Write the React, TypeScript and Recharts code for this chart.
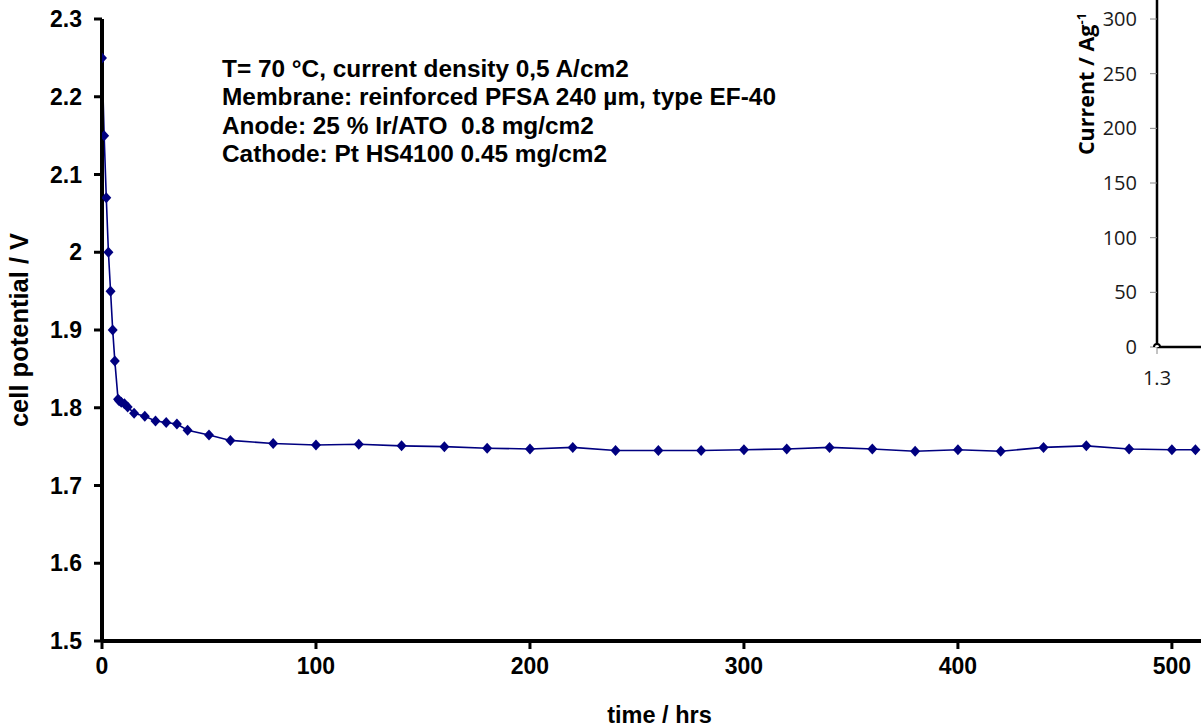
import React from "react";
import { LineChart, Line, XAxis, YAxis, Label } from "recharts";

// durability test: cell potential vs time
const hours = [
  0, 1, 2, 3, 4, 5, 6, 7.5, 8, 9, 10.5, 12, 15, 20, 25, 30, 35, 40, 50, 60,
  80, 100, 120, 140, 160, 180, 200, 220, 240, 260, 280, 300, 320, 340, 360,
  380, 400, 420, 440, 460, 480, 500, 511,
];
const potential = [
  2.25, 2.15, 2.07, 2.0, 1.95, 1.9, 1.86, 1.811, 1.809, 1.807, 1.805, 1.801,
  1.793, 1.789, 1.783, 1.781, 1.779, 1.771, 1.765, 1.758, 1.754, 1.752, 1.753,
  1.751, 1.75, 1.748, 1.747, 1.749, 1.745, 1.745, 1.745, 1.746, 1.747, 1.749,
  1.747, 1.744, 1.746, 1.744, 1.749, 1.751, 1.747, 1.746, 1.746,
];
const xTicks = [0, 100, 200, 300, 400, 500];
const yTicks = [1.5, 1.6, 1.7, 1.8, 1.9, 2.0, 2.1, 2.2, 2.3];

const notes = [
  "T= 70 °C, current density 0,5 A/cm2",
  "Membrane: reinforced PFSA 240 µm, type EF-40",
  "Anode: 25 % Ir/ATO  0.8 mg/cm2",
  "Cathode: Pt HS4100 0.45 mg/cm2",
];

// piece of a neighbouring figure that shows up on the right
const insetVoltage = [1.3];
const insetCurrent = [0];
const insetYTicks = [0, 50, 100, 150, 200, 250, 300];
const insetXTicks = [1.3];

const data = hours.map((t, i) => ({ t, v: potential[i] }));
const insetData = insetVoltage.map((e, i) => ({ e, c: insetCurrent[i] }));

const FONT = "'Liberation Sans', Arial, sans-serif";
const INSET_FONT = "'Open Sans', sans-serif";
const NAVY = "#000080";

const Diamond = (props: any) => {
  const { cx, cy } = props;
  if (cx == null || cy == null) return null;
  return (
    <polygon
      points={`${cx},${cy - 5.5} ${cx + 5},${cy} ${cx},${cy + 5.5} ${cx - 5},${cy}`}
      fill={NAVY}
    />
  );
};

const fmtV = (v: number) => (Math.abs(v - 2) < 1e-9 ? "2" : v.toFixed(1));

export default function App() {
  return (
    <div
      style={{
        position: "absolute",
        left: 0,
        top: 0,
        width: 1201,
        height: 727,
        overflow: "hidden",
        background: "#fff",
      }}
    >
      <div style={{ position: "absolute", left: 0, top: 0 }}>
        <LineChart
          width={1201}
          height={727}
          data={data}
          margin={{ top: 19, right: 0, left: 0, bottom: 0 }}
        >
          <XAxis
            dataKey="t"
            type="number"
            domain={[0, 513.6]}
            ticks={xTicks}
            allowDataOverflow
            height={86}
            axisLine={{ stroke: "#000", strokeWidth: 4 }}
            tickLine={{ stroke: "#000", strokeWidth: 3 }}
            tickSize={8}
            tickMargin={9}
            tick={{ fill: "#000", fontSize: 23, fontWeight: 700, fontFamily: FONT }}
          >
            <Label
              content={(p: any) => {
                const vb = p.viewBox;
                return (
                  <text
                    x={vb.x + vb.width / 2 + 8}
                    y={723}
                    textAnchor="middle"
                    fontSize={23.5}
                    fontWeight={700}
                    fontFamily={FONT}
                    fill="#000"
                  >
                    time / hrs
                  </text>
                );
              }}
            />
          </XAxis>
          <YAxis
            type="number"
            domain={[1.5, 2.3]}
            ticks={yTicks}
            width={102}
            axisLine={{ stroke: "#000", strokeWidth: 4 }}
            tickLine={{ stroke: "#000", strokeWidth: 3 }}
            tickSize={8}
            tickMargin={12}
            tickFormatter={fmtV}
            tick={{ fill: "#000", fontSize: 23, fontWeight: 700, fontFamily: FONT }}
          >
            <Label
              content={(p: any) => {
                const vb = p.viewBox;
                const cy = vb.y + vb.height / 2;
                return (
                  <text
                    x={28}
                    y={cy}
                    transform={`rotate(-90, 28, ${cy})`}
                    textAnchor="middle"
                    fontSize={25.5}
                    fontWeight={700}
                    fontFamily={FONT}
                    fill="#000"
                  >
                    cell potential / V
                  </text>
                );
              }}
            />
          </YAxis>
          <Line
            type="linear"
            dataKey="v"
            stroke={NAVY}
            strokeWidth={1.6}
            dot={<Diamond />}
            activeDot={false}
            isAnimationActive={false}
          />
        </LineChart>
      </div>

      <div
        style={{
          position: "absolute",
          left: 222,
          top: 55,
          fontFamily: FONT,
          fontWeight: 700,
          fontSize: 24.4,
          lineHeight: "28.3px",
          color: "#000",
          whiteSpace: "pre",
        }}
      >
        {notes.map((n) => (
          <div key={n}>{n}</div>
        ))}
      </div>

      <div style={{ position: "absolute", left: 1050, top: 0 }}>
        <LineChart
          width={300}
          height={400}
          data={insetData}
          margin={{ top: 0, right: 0, left: 0, bottom: 0 }}
        >
          <XAxis
            dataKey="e"
            type="number"
            domain={[1.3, 1.7]}
            ticks={insetXTicks}
            height={53}
            axisLine={{ stroke: "#000", strokeWidth: 2.5 }}
            tickLine={{ stroke: "#888", strokeWidth: 1 }}
            tickSize={7}
            tickMargin={17}
            tick={{ fill: "#1a1a1a", fontSize: 20, fontFamily: INSET_FONT }}
          />
          <YAxis
            type="number"
            domain={[0, 317.4]}
            ticks={insetYTicks}
            allowDataOverflow
            width={107}
            axisLine={{ stroke: "#000", strokeWidth: 2.5 }}
            tickLine={{ stroke: "#888", strokeWidth: 1 }}
            tickSize={7}
            tickMargin={13}
            tick={{ fill: "#1a1a1a", fontSize: 20, fontFamily: INSET_FONT }}
          >
            <Label
              content={() => (
                <text
                  x={44}
                  y={84}
                  transform="rotate(-90, 44, 84)"
                  textAnchor="middle"
                  fontSize={21.5}
                  fontWeight={700}
                  fontFamily={INSET_FONT}
                  fill="#000"
                >
                  Current / Ag
                  <tspan dy={-8} fontSize={13}>
                    -1
                  </tspan>
                </text>
              )}
            />
          </YAxis>
          <Line
            type="linear"
            dataKey="c"
            stroke="#000"
            strokeWidth={2}
            dot={false}
            isAnimationActive={false}
          />
        </LineChart>
      </div>
    </div>
  );
}
